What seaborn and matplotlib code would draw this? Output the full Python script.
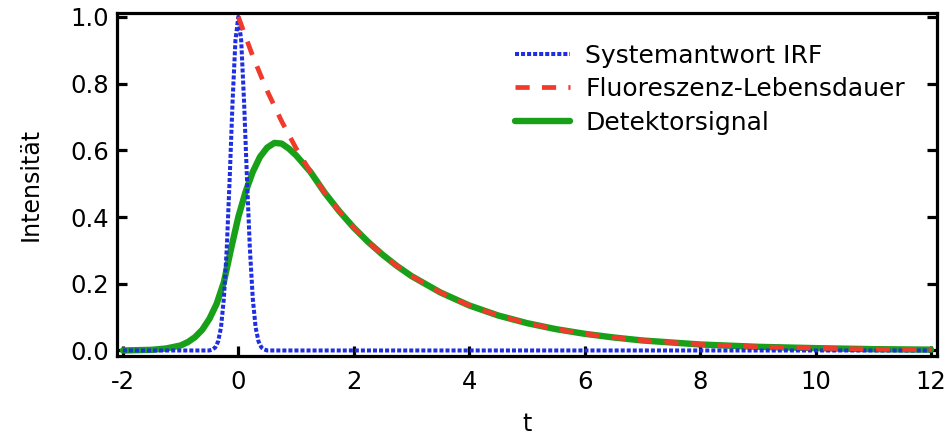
import numpy as np
import pandas as pd
import matplotlib
matplotlib.use("Agg")
import matplotlib.pyplot as plt
import seaborn as sns

# ---- data ----
irf_t = [-2.0, -0.5, -0.45, -0.4, -0.35, -0.3, -0.25, -0.2, -0.15, -0.1, -0.05, 0.0,
         0.05, 0.1, 0.15, 0.2, 0.25, 0.3, 0.35, 0.4, 0.45, 0.5, 12.0]
irf_y = [0.0, 0.0, 0.003, 0.009, 0.027, 0.069, 0.157, 0.306, 0.514, 0.744, 0.929, 1.0,
         0.929, 0.744, 0.514, 0.306, 0.157, 0.069, 0.027, 0.009, 0.003, 0.0, 0.0]

decay_t = [0.0, 0.25, 0.5, 0.75, 1.0, 1.25, 1.5, 1.75, 2.0, 2.25, 2.5, 2.75, 3.0, 3.5,
           4.0, 4.5, 5.0, 5.5, 6.0, 6.5, 7.0, 7.5, 8.0, 9.0, 10.0, 11.0, 12.0]
decay_y = [1.0, 0.882, 0.778, 0.687, 0.606, 0.535, 0.472, 0.417, 0.368, 0.325, 0.287,
           0.253, 0.223, 0.174, 0.135, 0.105, 0.082, 0.064, 0.050, 0.039, 0.030, 0.024,
           0.018, 0.011, 0.007, 0.004, 0.0025]

det_t = [-2.0, -1.5, -1.25, -1.0, -0.875, -0.75, -0.625, -0.5, -0.375, -0.25, -0.125,
         0.0, 0.125, 0.25, 0.375, 0.5, 0.625, 0.75, 0.875, 1.0, 1.25, 1.5, 1.75, 2.0,
         2.25, 2.5, 2.75, 3.0, 3.5, 4.0, 4.5, 5.0, 5.5, 6.0, 6.5, 7.0, 7.5, 8.0, 9.0,
         10.0, 11.0, 12.0]
det_y = [0.0, 0.002, 0.006, 0.015, 0.025, 0.040, 0.062, 0.095, 0.14, 0.205, 0.305,
         0.40, 0.475, 0.535, 0.58, 0.608, 0.622, 0.62, 0.605, 0.585, 0.535, 0.472,
         0.417, 0.368, 0.325, 0.287, 0.253, 0.223, 0.174, 0.135, 0.105, 0.082, 0.064,
         0.050, 0.039, 0.030, 0.024, 0.018, 0.011, 0.007, 0.004, 0.0025]

labels = ["Systemantwort IRF", "Fluoreszenz-Lebensdauer", "Detektorsignal"]
x_ticks = [-2, 0, 2, 4, 6, 8, 10, 12]
y_ticks = [0.0, 0.2, 0.4, 0.6, 0.8, 1.0]

# ---- styling ----
sns.set_style("ticks")
plt.rcParams["font.family"] = ["DejaVu Sans"]
plt.rcParams["text.color"] = "black"
plt.rcParams["axes.labelcolor"] = "black"

blue = "#1f2ee0"
red = "#f03a2c"
green = "#18a018"

fig = plt.figure(figsize=(9.52, 4.37), dpi=100)
ax = fig.add_axes([0.123, 0.185, 0.861, 0.785])

irf_df = pd.DataFrame({"t": irf_t, "I": irf_y})
dec_df = pd.DataFrame({"t": decay_t, "I": decay_y})
det_df = pd.DataFrame({"t": det_t, "I": det_y})

sns.lineplot(data=irf_df, x="t", y="I", ax=ax, color=blue, lw=2.9,
             linestyle=(0, (1, 0.5)), label=labels[0], zorder=3, sort=False)
sns.lineplot(data=det_df, x="t", y="I", ax=ax, color=green, lw=4.6,
             label=labels[2], zorder=2)
sns.lineplot(data=dec_df, x="t", y="I", ax=ax, color=red, lw=3.4,
             linestyle=(0, (3.0, 2.6)), label=labels[1], zorder=4)

ax.set_xlim(-2.1, 12.1)
ax.set_ylim(-0.017, 1.011)
ax.set_xticks(x_ticks)
ax.set_xticklabels([str(v) for v in x_ticks])
ax.set_yticks(y_ticks)
ax.set_yticklabels([f"{v:.1f}" for v in y_ticks])

for s in ax.spines.values():
    s.set_linewidth(2.3)
    s.set_color("black")
ax.tick_params(axis="both", direction="in", length=7, width=2.3,
               labelsize=17.5, colors="black")
ax.tick_params(axis="x", pad=10)
ax.tick_params(axis="y", pad=6, right=True)

ax.set_xlabel("t", fontsize=17, labelpad=13)
ax.set_ylabel("Intensität", fontsize=17, labelpad=20)

handles, labs = ax.get_legend_handles_labels()
order = [labs.index(l) for l in labels]
ax.legend([handles[i] for i in order], [labs[i] for i in order],
          loc="upper left", bbox_to_anchor=(0.541, 0.90),
          bbox_transform=fig.transFigure, frameon=False, fontsize=18,
          handlelength=2.2, handletextpad=0.6, labelspacing=0.38,
          borderpad=0, borderaxespad=0)

fig.savefig("out.png", dpi=100)
